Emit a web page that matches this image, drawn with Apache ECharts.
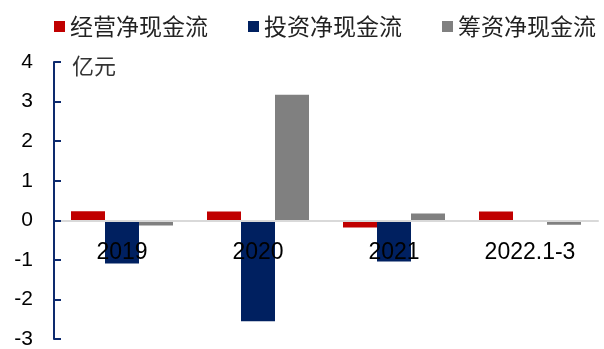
<!DOCTYPE html>
<html><head><meta charset="utf-8">
<script src="https://cdn.jsdelivr.net/npm/echarts@6/dist/echarts.min.js"></script>
<style>html,body{margin:0;padding:0;background:#fff}#c{width:604px;height:349px}</style>
</head><body><div id="c"></div>
<script>
const categories = ['2019', '2020', '2021', '2022.1-3'];
const seriesNames = ['经营净现金流', '投资净现金流', '筹资净现金流'];
const operating = [0.23, 0.22, -0.18, 0.22];
const investing = [-1.09, -2.55, -1.04, -0.04];
const financing = [-0.13, 3.17, 0.17, -0.11];
const yTicks = { min: -3, max: 4, interval: 1 };
const unitLabel = '亿元';

const colors = ['#c00000', '#002060', '#808080'];
const W = 604, H = 349;
const grid = { left: 54, right: 6, top: 62, bottom: 10 };
const plotH = H - grid.top - grid.bottom;
const zeroOffset = -plotH * (0 - yTicks.min) / (yTicks.max - yTicks.min);
const chart = echarts.init(document.getElementById('c'), null, { renderer: 'canvas' });
const values = [operating, investing, financing];
chart.setOption({
  animation: false,
  color: colors,
  legend: {
    left: 49, top: 10,
    icon: 'rect', itemWidth: 11, itemHeight: 11, itemGap: 40,
    textStyle: { fontSize: 23, color: '#222', fontFamily: 'Noto Sans CJK SC' },
    data: seriesNames
  },
  graphic: [{
    type: 'text', left: 72, top: 55,
    style: { text: unitLabel, fontSize: 22, fill: '#333', fontFamily: 'Noto Sans CJK SC' }
  }],
  grid: Object.assign({ containLabel: false, outerBoundsMode: 'none' }, grid),
  xAxis: {
    type: 'category', data: categories, z: 5,
    offset: zeroOffset,
    axisLine: { show: true, onZero: false, lineStyle: { color: '#d9d9d9', width: 2 } },
    axisTick: { show: false },
    axisLabel: { fontSize: 23, color: '#000', margin: 21, fontFamily: 'Liberation Sans' }
  },
  yAxis: {
    type: 'value', min: yTicks.min, max: yTicks.max, interval: yTicks.interval, z: 6,
    axisLine: { show: true, lineStyle: { color: '#0d2a6e', width: 2 } },
    axisTick: { show: true, inside: true, length: 7, lineStyle: { color: '#0d2a6e', width: 2 } },
    splitLine: { show: false },
    axisLabel: { fontSize: 21, color: '#000', margin: 21, fontFamily: 'Liberation Sans' }
  },
  series: seriesNames.map((n, i) => ({
    name: n, type: 'bar', data: values[i],
    barGap: '0%', barCategoryGap: '25%'
  }))
});
</script></body></html>
